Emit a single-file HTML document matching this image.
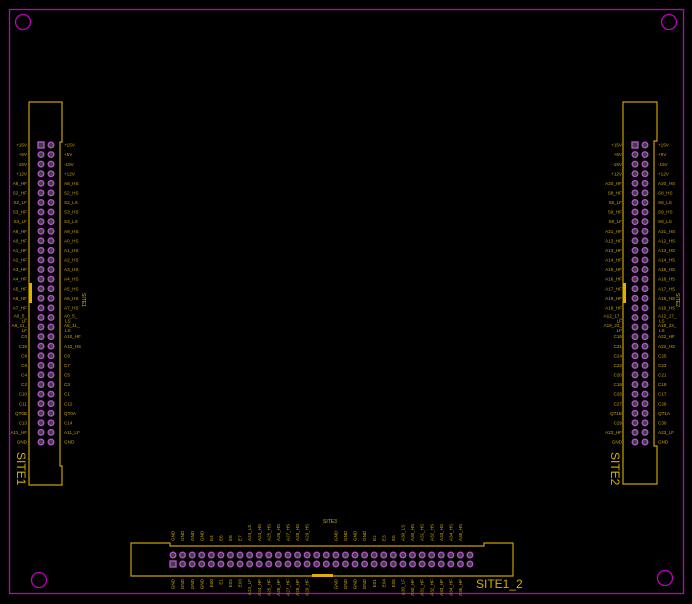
<!DOCTYPE html><html><head><style>html,body{margin:0;background:#000}svg{display:block}</style></head><body>
<svg id="s" width="692" height="604" xmlns="http://www.w3.org/2000/svg" font-family="Liberation Sans, sans-serif">
<rect width="692" height="604" fill="#000"/>
<rect x="9.5" y="9.5" width="674" height="584" fill="none" stroke="#c000c0" stroke-width="1.3"/>
<g fill="none" stroke="#c000c0" stroke-width="1.3">
<circle cx="23" cy="22" r="7.5"/><circle cx="669" cy="22" r="7.5"/><circle cx="39" cy="580" r="7.5"/><circle cx="665" cy="578" r="7.5"/></g>
<g fill="none" stroke="#c8a000" stroke-width="1.2">
<path d="M29,102 H62 V142 H60 V466 H62 V485 H29 Z"/>
<path d="M623,102 H657 V141 H654 V446 H657 V484 H623 Z"/>
<path d="M131,543 H170 V546 H484 V543 H513 V576 H131 Z"/>
</g>
<g fill="#e0b000"><rect x="29" y="283" width="3" height="20"/><rect x="623" y="283" width="3" height="20"/><rect x="312" y="574" width="21" height="3"/></g>
<g id="pins"></g><g id="lbl" fill="#c8a400" font-size="4.6"></g>
<g fill="#d4b000">
<text font-size="12" transform="translate(17,452) rotate(90)">SITE1</text>
<text font-size="12" transform="translate(611,452) rotate(90)">SITE2</text>
<text font-size="12" x="476" y="588">SITE1_2</text>
<text font-size="5" x="323" y="523">SITE3</text>
<text font-size="5" transform="translate(82,293) rotate(90)">SITE1</text>
<text font-size="5" transform="translate(676,293) rotate(90)">SITE2</text>
</g>
</svg>
<script>
var NS="http://www.w3.org/2000/svg",P=document.getElementById("pins"),L=document.getElementById("lbl");
function pin(x,y,sq){var c;if(sq){c=document.createElementNS(NS,"rect");c.setAttribute("x",x-3);c.setAttribute("y",y-3);c.setAttribute("width",6);c.setAttribute("height",6);}else{c=document.createElementNS(NS,"circle");c.setAttribute("cx",x);c.setAttribute("cy",y);c.setAttribute("r",2.8);}
c.setAttribute("fill","#404040");c.setAttribute("stroke","#b050c8");c.setAttribute("stroke-width","1.4");P.appendChild(c);}
function t1(s,x,y,a,rot){var e=document.createElementNS(NS,"text");e.textContent=s;if(rot){e.setAttribute("transform","translate("+x+","+y+") rotate(-90)");}else{e.setAttribute("x",x);e.setAttribute("y",y);}if(a)e.setAttribute("text-anchor",a);L.appendChild(e);}
function t(s,x,y,a){var p=s.split("_");if(p.length>2){var k=s.lastIndexOf("_");t1(s.slice(0,k+1),x,y-1.6,a);t1(s.slice(k+1),a?x:x+1,y+3.4,a);}else t1(s,x,y,a);}
var A=["+15V","+5V","-15V","+12V","A8_HF","S2_HF","S2_LF","S3_HF","S3_LF","A9_HF","A0_HF","A1_HF","A2_HF","A3_HF","A4_HF","A5_HF","A6_HF","A7_HF","A0_5_LF","A6_11_LF","C0","C18","C8","C6","C4","C2","C10","C11","QT0B","C13","A11_HF","GND"];
var B=["+15V","+5V","-15V","+12V","A8_HS","S2_HS","S2_LS","S3_HS","S3_LS","A9_HS","A0_HS","A1_HS","A2_HS","A3_HS","A4_HS","A5_HS","A6_HS","A7_HS","A0_5_LS","A6_11_LS","A10_HF","A10_HS","C9","C7","C5","C3","C1","C12","QT0A","C14","A11_LF","GND"];
var C=["+15V","+5V","-15V","+12V","A20_HF","S8_HF","S8_LF","S9_HF","S9_LF","A21_HF","A12_HF","A13_HF","A14_HF","A15_HF","A16_HF","A17_HF","A18_HF","A19_HF","A12_17_LF","A18_23_LF","C16","C31","C24","C22","C20","C18","C26","C27","QT1B","C29","A23_HF","GND"];
var D=["+15V","+5V","-15V","+12V","A20_HS","S8_HS","S8_LS","S9_HS","S9_LS","A21_HS","A12_HS","A13_HS","A14_HS","A15_HS","A16_HS","A17_HS","A18_HS","A19_HS","A12_17_LS","A18_23_LS","A22_HF","A22_HS","C25","C23","C21","C19","C17","C28","QT1A","C30","A23_LF","GND"];
for(var i=0;i<32;i++){var y=145+i*9.58;
pin(41,y,i==0);pin(51,y,false);pin(635,y,i==0);pin(645,y,false);
t(A[i],27,y+1.6,"end");t(B[i],64,y+1.6);t(C[i],622,y+1.6,"end");t(D[i],658,y+1.6);}
var T=["GND","GND","GND","GND","E4","E6","E8","E7","A24_LS","A24_HS","A25_HS","A26_HS","A27_HS","A28_HS","A29_HS","","","GND","GND","GND","GND","E2","E3","E5","A30_LS","A30_HS","A31_HS","A32_HS","A33_HS","A34_HS","A35_HS",""];
var U=["GND","GND","GND","GND","E00","E1","E02","E03","A24_LF","A24_HF","A25_HF","A26_HF","A27_HF","A28_HF","A29_HF","","","GND","GND","GND","GND","E01","E04","E05","A30_LF","A30_HF","A31_HF","A32_HF","A33_HF","A34_HF","A35_HF",""];
for(var j=0;j<32;j++){var x=173+j*9.58;pin(x,555,false);pin(x,564,j==0);
if(T[j])t1(T[j],x+1.6,541,null,1);if(U[j])t1(U[j],x+1.6,579,"end",1);}
</script>
</body></html>
